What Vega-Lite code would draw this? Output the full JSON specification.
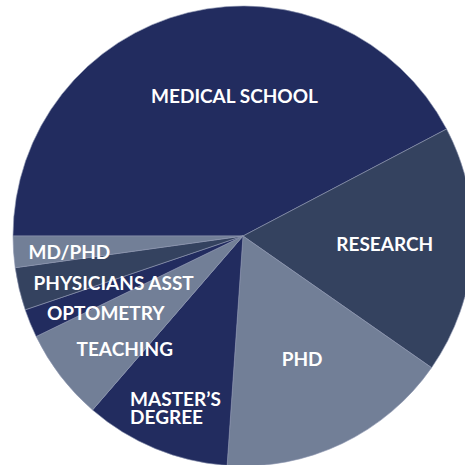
{
  "$schema": "https://vega.github.io/schema/vega-lite/v6.json",
  "width": 444,
  "height": 458,
  "autosize": {"type": "none"},
  "padding": {"left": 21, "top": 7, "right": 0, "bottom": 0},
  "background": "white",
  "config": {"view": {"stroke": null}},
  "data": {
    "values": [
      {"category": "MEDICAL SCHOOL", "value": 42.3, "order": 1},
      {"category": "RESEARCH", "value": 17.4, "order": 2},
      {"category": "PHD", "value": 16.4, "order": 3},
      {"category": "MASTER’S DEGREE", "value": 10.25, "order": 4},
      {"category": "TEACHING", "value": 6.45, "order": 5},
      {"category": "OPTOMETRY", "value": 2.0, "order": 6},
      {"category": "PHYSICIANS ASST", "value": 3.0, "order": 7},
      {"category": "MD/PHD", "value": 2.2, "order": 8}
    ]
  },
  "encoding": {
    "theta": {"field": "value", "type": "quantitative", "stack": true, "scale": {"type": "linear", "range": [4.712389, 10.995574], "zero": true, "nice": false}},
    "order": {"field": "order", "type": "quantitative"}
  },
  "layer": [
    {
      "mark": {"type": "arc", "outerRadius": 230, "stroke": "#8d96b0", "strokeWidth": 0.6},
      "encoding": {
        "color": {
          "field": "category", "type": "nominal", "legend": null,
          "scale": {
            "domain": ["MEDICAL SCHOOL", "RESEARCH", "PHD", "MASTER’S DEGREE", "TEACHING", "OPTOMETRY", "PHYSICIANS ASST", "MD/PHD"],
            "range": ["#222c5f", "#34425f", "#727f97", "#222c5f", "#727f97", "#222c5f", "#34425f", "#727f97"]
          }
        }
      }
    },
    {
      "mark": {"type": "text", "radius": 144, "dx": 26, "dy": 1, "font": "Lato", "fontWeight": "bold", "fontSize": 19, "fill": "white", "baseline": "middle", "align": "center"},
      "encoding": {"text": {"condition": {"test": "datum.category == 'MEDICAL SCHOOL'", "field": "category"}, "value": ""}}
    },
    {
      "mark": {"type": "text", "radius": 142, "font": "Lato", "fontWeight": "bold", "fontSize": 19, "fill": "white", "baseline": "middle", "align": "center"},
      "encoding": {"text": {"condition": {"test": "datum.category == 'RESEARCH'", "field": "category"}, "value": ""}}
    },
    {
      "mark": {"type": "text", "radius": 137, "font": "Lato", "fontWeight": "bold", "fontSize": 19, "fill": "white", "baseline": "middle", "align": "center"},
      "encoding": {"text": {"condition": {"test": "datum.category == 'PHD'", "field": "category"}, "value": ""}}
    },
    {
      "mark": {"type": "text", "radius": 186, "dx": -42, "dy": -8, "font": "Lato", "fontWeight": "bold", "fontSize": 19, "fill": "white", "baseline": "middle", "align": "left", "lineBreak": " ", "lineHeight": 18.5},
      "encoding": {"text": {"condition": {"test": "datum.category == 'MASTER’S DEGREE'", "field": "category"}, "value": ""}}
    },
    {
      "mark": {"type": "text", "radius": 163, "dx": 11, "dy": 15, "font": "Lato", "fontWeight": "bold", "fontSize": 19, "fill": "white", "baseline": "middle", "align": "center"},
      "encoding": {"text": {"condition": {"test": "datum.category == 'TEACHING'", "field": "category"}, "value": ""}}
    },
    {
      "mark": {"type": "text", "radius": 157, "dx": 8, "dy": 18, "font": "Lato", "fontWeight": "bold", "fontSize": 19, "fill": "white", "baseline": "middle", "align": "center"},
      "encoding": {"text": {"condition": {"test": "datum.category == 'OPTOMETRY'", "field": "category"}, "value": ""}}
    },
    {
      "mark": {"type": "text", "radius": 136, "dx": 3, "dy": 17, "font": "Lato", "fontWeight": "bold", "fontSize": 19, "fill": "white", "baseline": "middle", "align": "center"},
      "encoding": {"text": {"condition": {"test": "datum.category == 'PHYSICIANS ASST'", "field": "category"}, "value": ""}}
    },
    {
      "mark": {"type": "text", "radius": 174, "dy": 5, "font": "Lato", "fontWeight": "bold", "fontSize": 19, "fill": "white", "baseline": "middle", "align": "center"},
      "encoding": {"text": {"condition": {"test": "datum.category == 'MD/PHD'", "field": "category"}, "value": ""}}
    }
  ]
}
